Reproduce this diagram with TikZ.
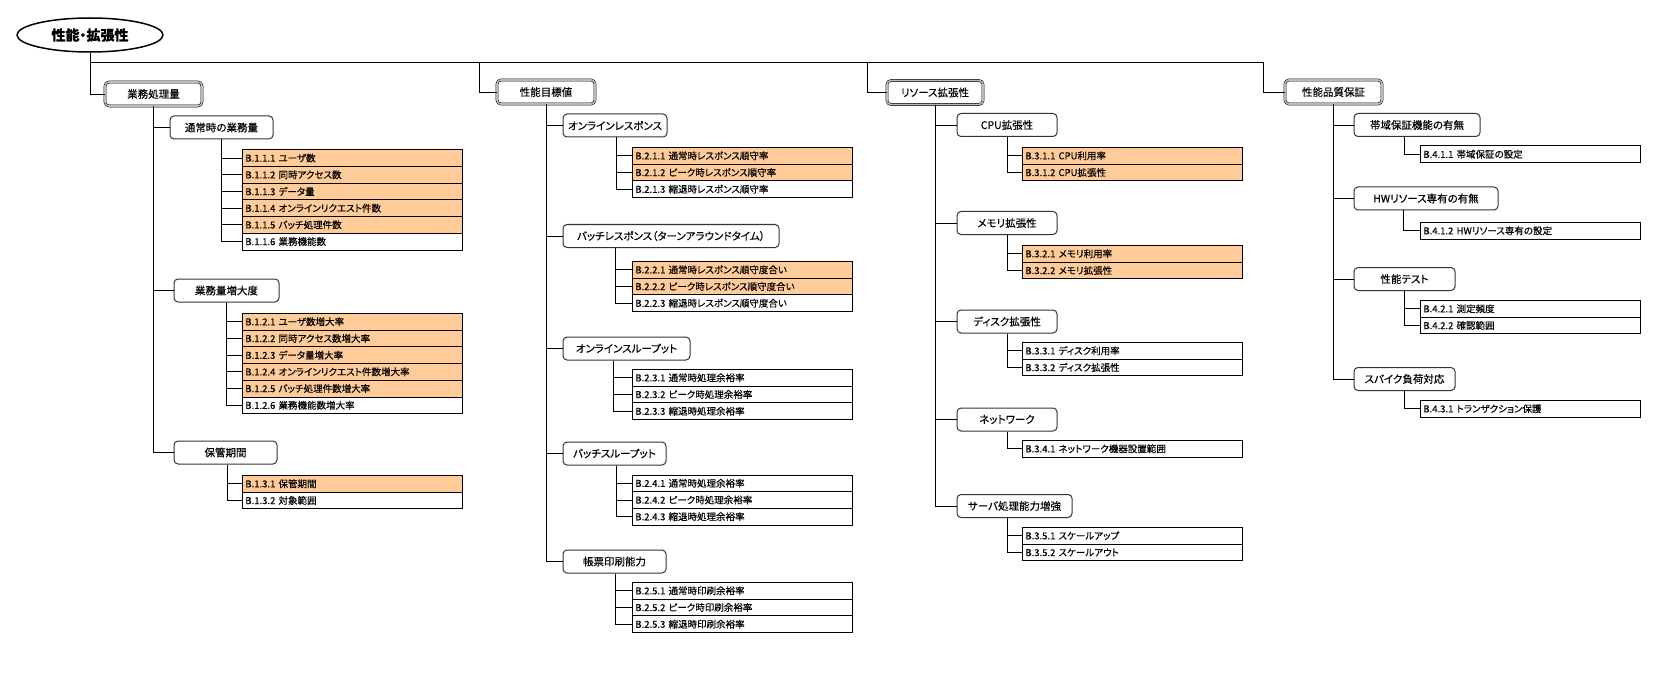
\documentclass[tikz,border=0pt]{standalone}
\usepackage{fontspec}
\setmainfont{Noto Sans CJK JP}[RawFeature=+palt,FakeBold=0.3]
\usetikzlibrary{shapes.geometric}
\definecolor{orc}{HTML}{FFCC99}
\begin{document}
\begin{tikzpicture}[x=1pt,y=-1pt,
  conn/.style={draw=black,line width=0.9},
  l1/.style={draw=black,double=gray!55,double distance=1.6,line width=0.5,rounded corners=4,minimum height=24,inner sep=0,font=\fontsize{10.5}{12}\selectfont},
  l2/.style={draw=black!80,line width=1,rounded corners=4,minimum height=23,inner sep=0,font=\fontsize{10.5}{12}\selectfont},
  r3/.style={draw=black,line width=0.8,anchor=north west,text width=214,inner xsep=3,inner ysep=0,minimum height=16.7,align=left,font=\fontsize{9.5}{10}\selectfont},
  hl/.style={r3,fill=orc}]
\useasboundingbox (0,0) rectangle (1670,679);
% root
\node[ellipse,draw,line width=1.5,minimum width=146,minimum height=34,inner sep=0,font=\fontsize{14}{16}\selectfont\bfseries] (root) at (90,35) {性能・拡張性};
% level 1
\node[l1,minimum width=97] (L1) at (153.5,94) {業務処理量};
\node[l1,minimum width=98] (L2) at (546,92) {性能目標値};
\node[l1,minimum width=96] (L3) at (935,92.5) {リソース拡張性};
\node[l1,minimum width=97] (L4) at (1333.5,92) {性能品質保証};
\coordinate (j2) at (479,62);
\coordinate (j3) at (867,62);
\coordinate (j4) at (1263,62);
\draw[conn] (root.south) |- (L1.west);
\draw[conn] (root.south |- j4) -- (j4) |- (L4.west);
\draw[conn] (j2) |- (L2.west);
\draw[conn] (j3) |- (L3.west);
% level 2
\node[l2,minimum width=103] (A1) at (221.5,127.5) {通常時の業務量};
\node[l2,minimum width=105] (A2) at (226.5,290.5) {業務量増大度};
\node[l2,minimum width=103] (A3) at (225.5,452.5) {保管期間};
\node[l2,minimum width=104] (B1) at (615,125.5) {オンラインレスポンス};
\node[l2,minimum width=216] (B2) at (671,236) {バッチレスポンス（ターンアラウンドタイム）};
\node[l2,minimum width=127] (B3) at (626.5,348.5) {オンラインスループット};
\node[l2,minimum width=103] (B4) at (614.5,453.5) {バッチスループット};
\node[l2,minimum width=103] (B5) at (614.5,561.5) {帳票印刷能力};
\node[l2,minimum width=100] (C1) at (1007,125) {CPU拡張性};
\node[l2,minimum width=100] (C2) at (1007,223) {メモリ拡張性};
\node[l2,minimum width=100] (C3) at (1007,321.5) {ディスク拡張性};
\node[l2,minimum width=100] (C4) at (1007,419.5) {ネットワーク};
\node[l2,minimum width=115] (C5) at (1014.5,506) {サーバ処理能力増強};
\node[l2,minimum width=126] (D1) at (1417,125) {帯域保証機能の有無};
\node[l2,minimum width=144] (D2) at (1426,198.5) {HWリソース専有の有無};
\node[l2,minimum width=101] (D3) at (1404.5,279) {性能テスト};
\node[l2,minimum width=101] (D4) at (1404.5,379) {スパイク負荷対応};
\foreach \p/\c in {L1/A1,L1/A2,L1/A3,L2/B1,L2/B2,L2/B3,L2/B4,L2/B5,L3/C1,L3/C2,L3/C3,L3/C4,L3/C5,L4/D1,L4/D2,L4/D3,L4/D4}
  \draw[conn] (\p.south) |- (\c.west);
% level 3 : 1
\node[hl] (a1) at (242,149.3) {B.1.1.1 ユーザ数};
\node[hl] (a2) at (242,166.0) {B.1.1.2 同時アクセス数};
\node[hl] (a3) at (242,182.7) {B.1.1.3 データ量};
\node[hl] (a4) at (242,199.4) {B.1.1.4 オンラインリクエスト件数};
\node[hl] (a5) at (242,216.1) {B.1.1.5 バッチ処理件数};
\node[r3] (a6) at (242,232.8) {B.1.1.6 業務機能数};
\node[hl] (b1) at (242,313.0) {B.1.2.1 ユーザ数増大率};
\node[hl] (b2) at (242,329.7) {B.1.2.2 同時アクセス数増大率};
\node[hl] (b3) at (242,346.4) {B.1.2.3 データ量増大率};
\node[hl] (b4) at (242,363.1) {B.1.2.4 オンラインリクエスト件数増大率};
\node[hl] (b5) at (242,379.8) {B.1.2.5 バッチ処理件数増大率};
\node[r3] (b6) at (242,396.5) {B.1.2.6 業務機能数増大率};
\node[hl] (c1) at (242,475.0) {B.1.3.1 保管期間};
\node[r3] (c2) at (242,491.7) {B.1.3.2 対象範囲};
% level 3 : 2
\node[hl] (d1) at (632,147.0) {B.2.1.1 通常時レスポンス順守率};
\node[hl] (d2) at (632,163.7) {B.2.1.2 ピーク時レスポンス順守率};
\node[r3] (d3) at (632,180.4) {B.2.1.3 縮退時レスポンス順守率};
\node[hl] (e1) at (632,261.0) {B.2.2.1 通常時レスポンス順守度合い};
\node[hl] (e2) at (632,277.7) {B.2.2.2 ピーク時レスポンス順守度合い};
\node[r3] (e3) at (632,294.4) {B.2.2.3 縮退時レスポンス順守度合い};
\node[r3] (f1) at (632,369.0) {B.2.3.1 通常時処理余裕率};
\node[r3] (f2) at (632,385.7) {B.2.3.2 ピーク時処理余裕率};
\node[r3] (f3) at (632,402.4) {B.2.3.3 縮退時処理余裕率};
\node[r3] (g1) at (632,474.5) {B.2.4.1 通常時処理余裕率};
\node[r3] (g2) at (632,491.2) {B.2.4.2 ピーク時処理余裕率};
\node[r3] (g3) at (632,507.9) {B.2.4.3 縮退時処理余裕率};
\node[r3] (h1) at (632,582.0) {B.2.5.1 通常時印刷余裕率};
\node[r3] (h2) at (632,598.7) {B.2.5.2 ピーク時印刷余裕率};
\node[r3] (h3) at (632,615.4) {B.2.5.3 縮退時印刷余裕率};
% level 3 : 3
\node[hl] (i1) at (1022,147.0) {B.3.1.1 CPU利用率};
\node[hl] (i2) at (1022,163.7) {B.3.1.2 CPU拡張性};
\node[hl] (k1) at (1022,245.0) {B.3.2.1 メモリ利用率};
\node[hl] (k2) at (1022,261.7) {B.3.2.2 メモリ拡張性};
\node[r3] (m1) at (1022,342.0) {B.3.3.1 ディスク利用率};
\node[r3] (m2) at (1022,358.7) {B.3.3.2 ディスク拡張性};
\node[r3] (n1) at (1022,440.0) {B.3.4.1 ネットワーク機器設置範囲};
\node[r3] (o1) at (1022,527.0) {B.3.5.1 スケールアップ};
\node[r3] (o2) at (1022,543.7) {B.3.5.2 スケールアウト};
% level 3 : 4
\node[r3] (p1) at (1420,145.5) {B.4.1.1 帯域保証の設定};
\node[r3] (q1) at (1420,222.0) {B.4.1.2 HWリソース専有の設定};
\node[r3] (s1) at (1420,300.0) {B.4.2.1 測定頻度};
\node[r3] (s2) at (1420,316.7) {B.4.2.2 確認範囲};
\node[r3] (t1) at (1420,400.0) {B.4.3.1 トランザクション保護};
% level 3 connectors (vertical stems: x offset from the parent's centre)
\foreach \p/\dx/\c in {A1/0/a1,A1/0/a2,A1/0/a3,A1/0/a4,A1/0/a5,A1/0/a6,A2/0/b1,A2/0/b2,A2/0/b3,A2/0/b4,A2/0/b5,A2/0/b6,A3/2/c1,A3/2/c2,
  B1/1/d1,B1/1/d2,B1/1/d3,B2/-56/e1,B2/-56/e2,B2/-56/e3,B3/-13.5/f1,B3/-13.5/f2,B3/-13.5/f3,B4/2/g1,B4/2/g2,B4/2/g3,B5/0.5/h1,B5/0.5/h2,B5/0.5/h3,
  C1/0/i1,C1/0/i2,C2/0/k1,C2/0/k2,C3/0/m1,C3/0/m2,C4/0/n1,C5/-7.5/o1,C5/-7.5/o2,D1/-13/p1,D2/-23/q1,D3/-0.5/s1,D3/-0.5/s2,D4/-0.5/t1}
  \draw[conn] ([xshift=\dx]\p.south) |- (\c.west);
\end{tikzpicture}
\end{document}
